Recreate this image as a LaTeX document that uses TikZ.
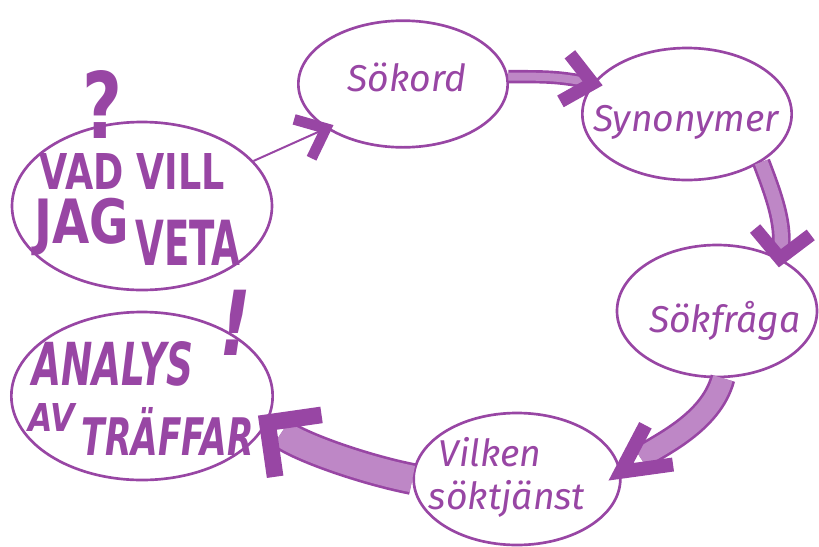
\documentclass[tikz,border=0pt]{standalone}
\usepackage{fontspec}
\usepackage{graphicx}
\usetikzlibrary{shapes.geometric,decorations.markings}
\newfontfamily\handfont{Fira Sans}
\newfontfamily\blockfont{DejaVu Sans}
\definecolor{ink}{RGB}{152,70,164}
\definecolor{bandfill}{RGB}{190,135,198}

\tikzset{
  bubble/.style={ellipse, draw=ink, line width=2pt, inner sep=0pt},
  hand/.style={text=ink, inner sep=0pt, font=\handfont\itshape\fontsize{28}{30}\selectfont},
  blockword/.style={text=ink, inner sep=0pt, font=\blockfont\bfseries},
  slantword/.style={blockword, font=\blockfont\bfseries\itshape},
  band/.style 2 args={draw=ink, line width=#1, postaction={draw=bandfill, line width=#2}},
  vhead/.style n args={3}{postaction={decorate}, decoration={markings, mark=at position 1 with {\draw[ink, line width=#1, line join=miter, line cap=butt, shorten >=0pt, shorten <=0pt] (-#2,#3) -- (0pt,0pt) -- (-#2,-#3);}}}
}

\begin{document}
\begin{tikzpicture}[x=0.75pt,y=0.75pt,yscale=-1,xscale=1]
\useasboundingbox (0,0) rectangle (819,547);

%Shape: Ellipse [vad]
\node[bubble, minimum width=195pt, minimum height=126pt] (vad) at (142,206) {};
%Shape: Ellipse [analys]
\node[bubble, minimum width=196pt, minimum height=126pt] (analys) at (142,396) {};
%Shape: Ellipse [sokord]
\node[bubble, minimum width=157pt, minimum height=95pt] (sokord) at (403,84) {};
%Shape: Ellipse [syn]
\node[bubble, minimum width=157pt, minimum height=99pt] (syn) at (687,114) {};
%Shape: Ellipse [sok]
\node[bubble, minimum width=150pt, minimum height=99pt] (sok) at (717,311) {};
%Shape: Ellipse [vilken]
\node[bubble, minimum width=155pt, minimum height=99pt] (vilken) at (517,479) {};

% Text Node
\node[blockword] (fraga) at (103,104) {\resizebox{30pt}{51pt}{?}};
\node[blockword] (vadvill) at (132,171) {\resizebox{139pt}{27pt}{VAD VILL}};
\node[blockword] (jag) at (82,227) {\resizebox{71pt}{34pt}{JAG}};
\node[blockword] (veta) at (188,243) {\resizebox{79pt}{34pt}{VETA}};
% Text Node
\node[slantword] (utrop) at (235,323) {\resizebox{24pt}{49pt}{!}};
\node[slantword] (analystxt) at (113,364) {\resizebox{121pt}{33pt}{ANALYS}};
\node[slantword] (av) at (52,417) {\resizebox{35pt}{21pt}{AV}};
\node[slantword] (traffar) at (168,431) {\resizebox{129pt}{36pt}{TRÄFFAR}};
% Text Node
\node[hand] (sokordtxt) at (407,77) {Sökord};
\node[hand] (syntxt) at (686,122) {Synonymer};
\node[hand] (soktxt) at (725,321) {Sökfråga};
\node[hand] (vilkentxt) at (490,452) {Vilken};
\node[hand] (tjansttxt) at (507,499) {söktjänst};

%Arrows
\draw[ink, line width=1.5pt, vhead={8pt}{19pt}{16pt}] (vad.22) -- (sokord.210);
\draw[band={10pt}{6pt}, vhead={10pt}{21pt}{18pt}, shorten >=4pt] (sokord.4) .. controls +(35,0) and +(-35,-7) .. (syn.162);
\draw[band={14pt}{10pt}, vhead={10pt}{20pt}{21pt}, shorten >=6pt] (syn.-33) .. controls +(13,34) and +(4,-35) .. (sok.40);
\draw[band={19pt}{15pt}, vhead={10.5pt}{35pt}{18pt}, shorten >=18pt] (sok.-85) .. controls +(-12,45) and +(37,-26) .. (vilken.4);
\draw[band={24pt}{20pt}, vhead={12.5pt}{29pt}{29pt}, shorten >=13pt] (vilken.180) .. controls +(-50,-10) and +(32,24) .. (analys.-12);

\end{tikzpicture}
\end{document}
